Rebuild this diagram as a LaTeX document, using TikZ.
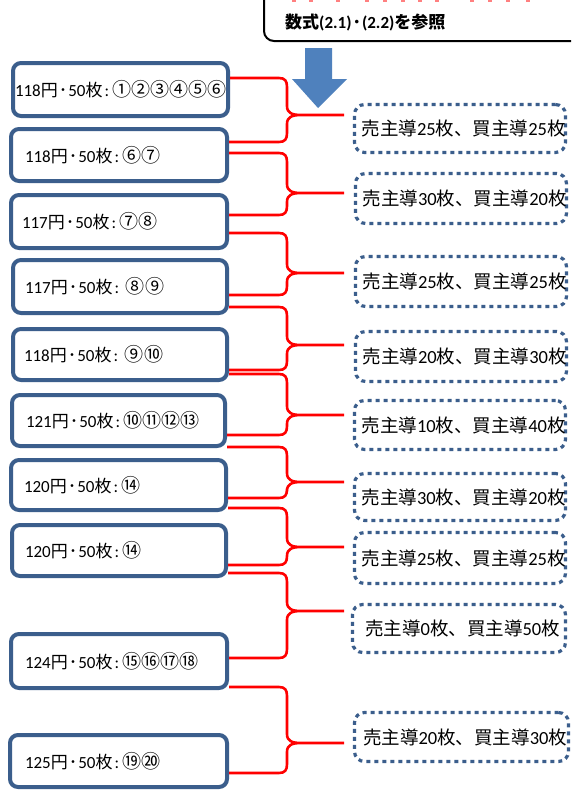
\documentclass[tikz,border=0pt]{standalone}
\usepackage{fontspec}
\setmainfont{Carlito}
\newfontfamily\cjk{Noto Sans CJK JP}
\newfontfamily\cjkc{Noto Sans CJK JP}[Scale=1.12]
\newcommand\J[1]{{\cjk #1}}
\newcommand\C[1]{{\cjkc #1}}
\newcommand\dt{{\cjk\kern1pt ･\kern1pt}}
\newcommand\cl{\kern2pt:\kern3pt}
\definecolor{boxblue}{HTML}{3B5E8C}
\definecolor{arrowblue}{HTML}{4F81BD}
\definecolor{bracered}{HTML}{FF0000}
\tikzset{
  lbox/.style={draw=boxblue, line width=4pt, rounded corners=8pt, fill=white, inner xsep=0pt, inner ysep=0pt, font=\fontsize{17}{19}\selectfont},
  rbox/.style={draw=boxblue, line width=3.2pt, rounded corners=10pt, dash pattern=on 4pt off 4pt, fill=white, inner sep=0pt, align=center, font=\fontsize{18.5}{21}\selectfont},
  bracelink/.style={draw=bracered, line width=2.6pt, line join=round},
}
% #1 name, #2 x1, #3 y1, #4 x2, #5 y2, #6 text left x, #7 text
\newcommand\lbx[7]{%
  \pgfmathsetlengthmacro\cw{(#2+#4)-2*#6}%
  \node[lbox, minimum width={#4-#2}, minimum height={#5-#3}] (#1) at ({(#2+#4)/2},{(#3+#5)/2}) {\makebox[\cw][l]{#7}};%
}
\newcommand\rbx[6]{%
  \node[rbox, minimum width={#4-#2}, minimum height={#5-#3}] (#1) at ({(#2+#4)/2},{(#3+#5)/2}) {\hspace*{7pt}\raisebox{-2pt}{#6}};%
}
% #1 upper box, #2 lower box, #3 y1, #4 ytip, #5 y2, #6 tip name
\newcommand\brc[6]{%
  \coordinate (#6) at (344,#4);
  \draw[bracelink] (#1.east |- 0,#3) -- (279,#3) .. controls (285,#3) and (287,#3+3) .. (287,#3+9)
    -- (287,#4-9) .. controls (287,#4-2) and (292,#4) .. (301,#4) -- (#6)
    (301,#4) .. controls (292,#4) and (287,#4+2) .. (287,#4+9)
    -- (287,#5-9) .. controls (287,#5-3) and (285,#5) .. (279,#5) -- (#2.east |- 0,#5);%
}
\begin{document}
\begin{tikzpicture}[x=1pt,y=-1pt]
\useasboundingbox (0,0) rectangle (571,790);
\clip (0,0) rectangle (571,790);
\fill[white] (0,0) rectangle (571,790);

% top reference box (cut off)
\draw[black, line width=2pt, rounded corners=10pt] (264,-40) rectangle (620,41);
\node[anchor=west, inner sep=0pt, font=\bfseries\fontsize{17}{19}\selectfont] (ref) at (285,22) {\J{数式}(2.1)\dt(2.2)\J{を参照}};
\foreach \x in {294,311,338,367,385,403,420,437,472,490,508,528}
  \draw[bracered!50, line width=2pt] (\x-2,0.5) -- (\x+2,0.5);

% arrow
\fill[arrowblue] (305,48) -- (332,48) -- (332,79) -- (347,79) -- (318,108) -- (292,79) -- (305,79) -- cycle;

% left boxes
\lbx{L1}{13}{63}{228}{116}{15}{118\J{円}\dt50\J{枚}\cl\C{①②③④⑤⑥}}
\lbx{L2}{11}{129}{227}{181}{25}{118\J{円}\dt50\J{枚}\cl\C{⑥⑦}}
\lbx{L3}{11}{195}{227}{248}{22}{117\J{円}\dt50\J{枚}\cl\C{⑦⑧}}
\lbx{L4}{13}{260}{227}{313}{25}{117\J{円}\dt50\J{枚}\cl\ \C{⑧⑨}}
\lbx{L5}{13}{329}{227}{380}{24}{118\J{円}\dt50\J{枚}\cl\ \C{⑨⑩}}
\lbx{L6}{12}{395}{225}{446}{26}{121\J{円}\dt50\J{枚}\cl\C{⑩⑪⑫⑬}}
\lbx{L7}{11}{460}{226}{510}{24}{120\J{円}\dt50\J{枚}\cl\C{⑭}}
\lbx{L8}{12}{525}{226}{576}{25}{120\J{円}\dt50\J{枚}\cl\C{⑭}}
\lbx{L9}{11}{634}{227}{688}{25}{124\J{円}\dt50\J{枚}\cl\C{⑮⑯⑰⑱}}
\lbx{L10}{10}{735}{227}{787}{25}{125\J{円}\dt50\J{枚}\cl\C{⑲⑳}}

% right boxes
\rbx{R1}{354.5}{104.5}{565.5}{152.5}{\J{売主導}25\J{枚、買主導}25\J{枚}}
\rbx{R2}{356.5}{173.5}{565.5}{223.5}{\J{売主導}30\J{枚、買主導}20\J{枚}}
\rbx{R3}{355.5}{256.5}{566.5}{306.5}{\J{売主導}25\J{枚、買主導}25\J{枚}}
\rbx{R4}{355.5}{331.5}{566.5}{381.5}{\J{売主導}20\J{枚、買主導}30\J{枚}}
\rbx{R5}{354.5}{400.5}{565.5}{449.5}{\J{売主導}10\J{枚、買主導}40\J{枚}}
\rbx{R6}{354.5}{473.5}{565.5}{520.5}{\J{売主導}30\J{枚、買主導}20\J{枚}}
\rbx{R7}{354.5}{532.5}{565.5}{583.5}{\J{売主導}25\J{枚、買主導}25\J{枚}}
\rbx{R8}{352.5}{604.5}{565.5}{652.5}{\J{売主導}0\J{枚、買主導}50\J{枚}}
\rbx{R9}{354.5}{712.5}{568.5}{761.5}{\J{売主導}20\J{枚、買主導}30\J{枚}}

% braces
\brc{L1}{L2}{78}{115}{142}{T1}
\brc{L2}{L3}{153}{193}{215}{T2}
\brc{L3}{L4}{233}{273}{295}{T3}
\brc{L4}{L5}{307}{345}{370}{T4}
\brc{L5}{L6}{374}{415}{435}{T5}
\brc{L6}{L7}{447}{482}{498}{T6}
\brc{L7}{L8}{508}{547}{565}{T7}
\brc{L8}{L9}{573}{611}{658}{T8}
\brc{L9}{L10}{687}{743}{773}{T9}
\end{tikzpicture}
\end{document}
